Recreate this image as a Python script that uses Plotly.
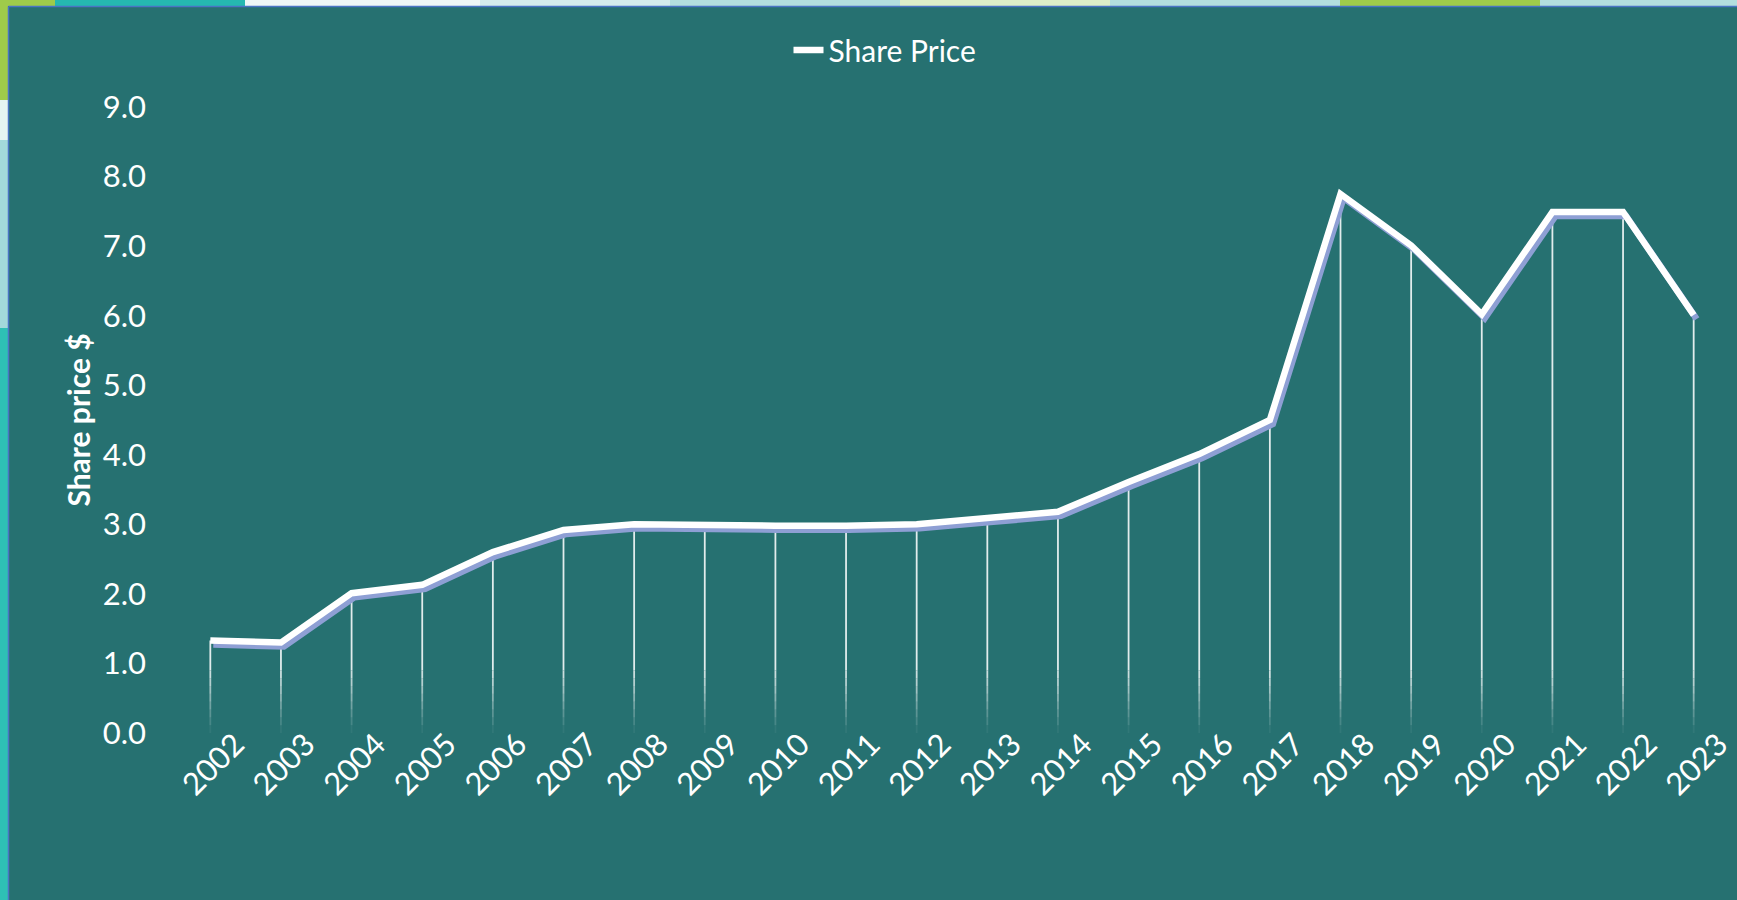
import plotly.graph_objects as go

# data
years = [str(y) for y in range(2002, 2024)]
share_price = [1.33, 1.30, 2.01, 2.13, 2.60, 2.92, 3.00, 2.98, 2.98, 2.98, 3.00,
               3.09, 3.18, 3.61, 4.01, 4.50, 7.75, 7.01, 6.02, 7.49, 7.49, 6.01]
y_ticks = [0, 1, 2, 3, 4, 5, 6, 7, 8, 9]

W, H = 1737, 900
M_L, M_R, M_T, M_B = 175, 8, 107, 167
PW, PH = W - M_L - M_R, H - M_T - M_B

BG = "#267171"
SHADOW = "#8E9FD4"
FONT = "Lato"

n = len(years)
x_range = [-0.5, n - 0.5]
y_range = [0, 9]

# shadow offset in pixels, turned into axis shifts
sx = 3 / (PW / n)
sy = 4 / (PH / (y_range[1] - y_range[0]))


def px_x(p):
    return (p - M_L) / PW


def px_y(p):
    return (H - M_B - p) / PH


fig = go.Figure()

# drop lines from each point down to the axis, fading out near the bottom
fade_top = 0.9
steps = 8
xs, ys = [], []
for i, v in enumerate(share_price):
    xs += [i, i, None]
    ys += [v, fade_top, None]
fig.add_trace(go.Scatter(x=xs, y=ys, mode="lines", hoverinfo="skip", showlegend=False,
                         line=dict(color="rgba(235,242,242,0.95)", width=1.8)))
for k in range(steps):
    top = fade_top * (steps - k) / steps
    bot = fade_top * (steps - k - 1) / steps
    a = 0.9 * (steps - k - 0.5) / steps
    xs, ys = [], []
    for i, v in enumerate(share_price):
        xs += [i, i, None]
        ys += [top, bot, None]
    fig.add_trace(go.Scatter(x=xs, y=ys, mode="lines", hoverinfo="skip", showlegend=False,
                             line=dict(color=f"rgba(235,242,242,{a:.2f})", width=1.8)))

# shadow under the main line
fig.add_trace(go.Scatter(x=list(range(n)), y=share_price, mode="lines", xaxis="x2", yaxis="y2",
                         showlegend=False, hoverinfo="skip",
                         line=dict(color=SHADOW, width=6.5)))

# main line
fig.add_trace(go.Scatter(x=list(range(n)), y=share_price, mode="lines", xaxis="x3", yaxis="y3",
                         name="Share Price", line=dict(color="white", width=6.5)))

# screenshot edges around the chart
edge_shapes = [
    # left strip
    (0, 0, 8, 100, "#9FCB4A"),
    (0, 100, 8, 140, "#E6F4F2"),
    (0, 140, 8, 328, "#A3D9DB"),
    (0, 328, 8, 900, "#2EC0B5"),
    # top strip
    (0, 0, 55, 6, "#9FCB4A"),
    (55, 0, 245, 6, "#25B8B0"),
    (245, 0, 480, 6, "#EEF6F6"),
    (480, 0, 670, 6, "#D5ECEC"),
    (670, 0, 900, 6, "#B3DEDE"),
    (900, 0, 1110, 6, "#DDEFC8"),
    (1110, 0, 1340, 6, "#B3DEDE"),
    (1340, 0, 1540, 6, "#9FCB4A"),
    (1540, 0, 1737, 6, "#B3DEDE"),
]
shapes = []
for x0, y0, x1, y1, c in edge_shapes:
    shapes.append(dict(type="rect", xref="paper", yref="paper", layer="below",
                       x0=px_x(x0), x1=px_x(x1), y0=px_y(y1), y1=px_y(y0),
                       fillcolor=c, line=dict(width=0)))
# thin blue frame edge
shapes.append(dict(type="line", xref="paper", yref="paper", layer="below",
                   x0=px_x(8.5), x1=px_x(8.5), y0=px_y(900), y1=px_y(6.5),
                   line=dict(color="#4A74C4", width=1.5)))
shapes.append(dict(type="line", xref="paper", yref="paper", layer="below",
                   x0=px_x(8.5), x1=px_x(1737), y0=px_y(6.5), y1=px_y(6.5),
                   line=dict(color="#4A74C4", width=1.5)))

hidden = dict(visible=False, showgrid=False, zeroline=False)

fig.update_layout(
    width=W, height=H,
    margin=dict(l=M_L, r=M_R, t=M_T, b=M_B, pad=0, autoexpand=False),
    paper_bgcolor=BG, plot_bgcolor=BG,
    font=dict(family=FONT, color="white"),
    shapes=shapes,
    showlegend=True,
    legend=dict(orientation="h", x=px_x(885), xanchor="center",
                yref="container", y=1 - 50 / H, yanchor="middle",
                font=dict(size=30, color="white"), bgcolor="rgba(0,0,0,0)"),
    xaxis=dict(type="linear", range=x_range, tickmode="array",
               tickvals=list(range(n)), ticktext=years, tickangle=-45,
               showgrid=False, zeroline=False, showline=False, ticks="",
               tickfont=dict(size=31, color="white"), ticklabelshift=25,
               ticklabelstandoff=-14, ticklabeloverflow="allow", automargin=False),
    yaxis=dict(range=y_range, tickvals=y_ticks, tickformat=".1f",
               showgrid=False, zeroline=False, showline=False, ticks="",
               tickfont=dict(size=31, color="white"), ticklabelstandoff=28,
               automargin=False,
               title=dict(text="<b>Share price $</b>", font=dict(size=30, color="white"),
                          standoff=3)),
    xaxis2=dict(overlaying="x", range=[x_range[0] - sx, x_range[1] - sx], **hidden),
    yaxis2=dict(overlaying="y", range=[y_range[0] + sy, y_range[1] + sy], **hidden),
    xaxis3=dict(overlaying="x", range=x_range, **hidden),
    yaxis3=dict(overlaying="y", range=y_range, **hidden),
)

fig.write_html("out.html", config={"displayModeBar": False},
               post_script="document.body.style.margin='0';")
